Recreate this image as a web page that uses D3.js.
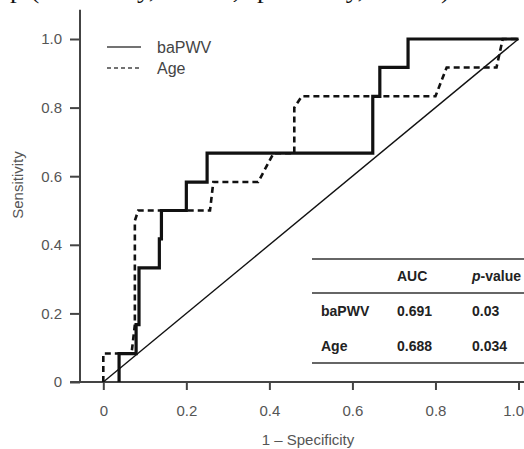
<!DOCTYPE html>
<html>
<head>
<meta charset="utf-8">
<script src="https://cdn.jsdelivr.net/npm/d3@7"></script>
<style>
  html, body { margin: 0; padding: 0; background: #fff; }
  svg { display: block; }
</style>
</head>
<body>
<svg id="chart" width="524" height="449"></svg>
<script>
// ---- data ----
const xTicks = [0, 0.2, 0.4, 0.6, 0.8, 1.0];
const yTicks = [0, 0.2, 0.4, 0.6, 0.8, 1.0];
const baPWV_fpr = [0.038, 0.038, 0.079, 0.079, 0.086, 0.086, 0.135, 0.135, 0.140, 0.140, 0.200, 0.200, 0.250, 0.250, 0.649, 0.649, 0.666, 0.666, 0.734, 0.734, 1.0];
const baPWV_tpr = [0, 0.083, 0.083, 0.167, 0.167, 0.333, 0.333, 0.417, 0.417, 0.5, 0.5, 0.583, 0.583, 0.667, 0.667, 0.833, 0.833, 0.917, 0.917, 1.0, 1.0];
const age_fpr = [0, 0, 0.068, 0.076, 0.076, 0.084, 0.257, 0.265, 0.373, 0.410, 0.460, 0.460, 0.478, 0.800, 0.827, 0.947, 0.962, 1.0];
const age_tpr = [0, 0.083, 0.083, 0.167, 0.47, 0.5, 0.5, 0.583, 0.583, 0.667, 0.667, 0.80, 0.833, 0.833, 0.917, 0.917, 1.0, 1.0];
const tableHeader = ["", "AUC", "p-value"];
const tableRows = [["baPWV", "0.691", "0.03"], ["Age", "0.688", "0.034"]];
const legendLabels = ["baPWV", "Age"];
const topCaption = "p (sensitivity, 66.7%; specificity, 75.0%)";

// ---- drawing ----
const svg = d3.select("#chart");
const x = d3.scaleLinear().domain([0, 1]).range([103.3, 518.5]);
const y = d3.scaleLinear().domain([0, 1]).range([382, 39]);
const axisColor = "#444";
const labelColor = "#555";
const font = "Arial, 'Liberation Sans', sans-serif";

// clipped caption from the page above (only its descenders show)
svg.append("text")
  .attr("x", 10).attr("y", -2)
  .attr("font-family", "'Liberation Serif', 'Times New Roman', serif")
  .attr("font-size", 26)
  .attr("fill", "#111")
  .attr("textLength", 440)
  .attr("lengthAdjust", "spacingAndGlyphs")
  .text(topCaption);

// axes
const yAxis = d3.axisLeft(y).tickValues(yTicks).tickSize(10).tickPadding(8)
  .tickFormat(d => d === 0 ? "0" : d.toFixed(1));
const gy = svg.append("g").attr("transform", `translate(${x(0) - 23.3},0)`).call(yAxis);
gy.select(".domain").remove();
gy.selectAll("line").attr("stroke", axisColor).attr("stroke-width", 2);
gy.selectAll("text").attr("fill", labelColor).attr("font-size", 15).attr("font-family", font);

const xAxis = d3.axisBottom(x).tickValues(xTicks).tickSize(8).tickPadding(15)
  .tickFormat(d => d === 0 ? "0" : d.toFixed(1));
const gx = svg.append("g").attr("transform", `translate(0,${y(0)})`).call(xAxis);
gx.select(".domain").remove();
gx.selectAll("line").attr("stroke", axisColor).attr("stroke-width", 2);
gx.selectAll("text").attr("fill", labelColor).attr("font-size", 15).attr("font-family", font);
gx.selectAll(".tick").filter(d => d === 1).select("text")
  .attr("text-anchor", "end").attr("x", 5);

// axis lines
svg.append("line")
  .attr("x1", x(0) - 23.3).attr("x2", x(0) - 23.3)
  .attr("y1", y(1.085)).attr("y2", y(0) + 1)
  .attr("stroke", axisColor).attr("stroke-width", 2);
svg.append("line")
  .attr("x1", x(-0.08)).attr("x2", 524)
  .attr("y1", y(0)).attr("y2", y(0))
  .attr("stroke", axisColor).attr("stroke-width", 2);

// axis titles
svg.append("text")
  .attr("x", 308).attr("y", 445)
  .attr("text-anchor", "middle")
  .attr("font-family", font).attr("font-size", 15).attr("fill", labelColor)
  .text("1 \u2013 Specificity");
svg.append("text")
  .attr("transform", "translate(23,185) rotate(-90)")
  .attr("text-anchor", "middle")
  .attr("font-family", font).attr("font-size", 15).attr("fill", labelColor)
  .text("Sensitivity");

// reference diagonal
svg.append("line")
  .attr("x1", x(0)).attr("y1", y(0))
  .attr("x2", x(1)).attr("y2", y(1))
  .attr("stroke", "#111").attr("stroke-width", 1.4);

const line = d3.line().x(d => x(d[0])).y(d => y(d[1]));
const agePts = age_fpr.map((f, i) => [f, age_tpr[i]]);
const baPts = baPWV_fpr.map((f, i) => [f, baPWV_tpr[i]]);

svg.append("path").datum(agePts)
  .attr("d", line).attr("fill", "none")
  .attr("stroke", "#111").attr("stroke-width", 2.6)
  .attr("stroke-dasharray", "6,4");
svg.append("path").datum(baPts)
  .attr("d", line).attr("fill", "none")
  .attr("stroke", "#111").attr("stroke-width", 3.2)
  .attr("stroke-linejoin", "miter");

// legend
const legendY = [47, 68];
legendLabels.forEach((lab, i) => {
  svg.append("line")
    .attr("x1", 107).attr("x2", 141)
    .attr("y1", legendY[i]).attr("y2", legendY[i])
    .attr("stroke", "#444").attr("stroke-width", 1.5)
    .attr("stroke-dasharray", i === 1 ? "4,3" : null);
  svg.append("text")
    .attr("x", 157).attr("y", legendY[i]).attr("dy", "0.35em")
    .attr("font-family", font).attr("font-size", 16).attr("fill", "#444")
    .text(lab);
});

// table
const tLeft = 312, tRight = 524;
[259, 293, 363].forEach(yy => {
  svg.append("line")
    .attr("x1", tLeft).attr("x2", tRight)
    .attr("y1", yy).attr("y2", yy)
    .attr("stroke", "#666").attr("stroke-width", 2.2);
});
const colX = [321, 397, 472];
const rowY = [276, 311, 346];
const tText = (xx, yy, s, italicFirst) => {
  const t = svg.append("text")
    .attr("x", xx).attr("y", yy).attr("dy", "0.35em")
    .attr("font-family", font).attr("font-size", 14)
    .attr("font-weight", "bold").attr("fill", "#222");
  if (italicFirst) {
    t.append("tspan").attr("font-style", "italic").text(s.slice(0, 1));
    t.append("tspan").text(s.slice(1));
  } else {
    t.text(s);
  }
};
tableHeader.forEach((h, j) => { if (h) tText(colX[j], rowY[0], h, h === "p-value"); });
tableRows.forEach((r, i) => r.forEach((c, j) => tText(colX[j], rowY[i + 1], c, false)));
</script>
</body>
</html>
